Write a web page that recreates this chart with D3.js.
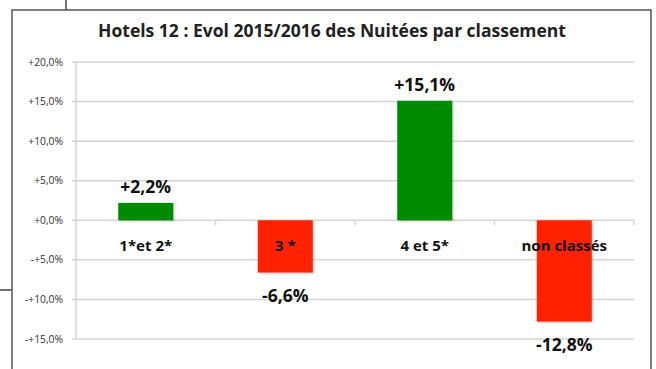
<!DOCTYPE html>
<html>
<head>
<meta charset="utf-8">
<script src="https://cdn.jsdelivr.net/npm/d3@7"></script>
<style>
  html, body { margin: 0; padding: 0; background: #fff; }
  svg { display: block; }
</style>
</head>
<body>
<svg id="chart" width="656" height="369"></svg>
<script>
// Chart data
const categories = ["1*et 2*", "3 *", "4 et 5*", "non classés"];
const values = [2.2, -6.6, 15.1, -12.8];
const valueLabels = ["+2,2%", "-6,6%", "+15,1%", "-12,8%"];
const tickValues = [20, 15, 10, 5, 0, -5, -10, -15];
const tickLabels = ["+20,0%", "+15,0%", "+10,0%", "+5,0%", "+0,0%", "-+5,0%", "-+10,0%", "-+15,0%"];
const title = "Hotels 12 : Evol 2015/2016 des Nuitées par classement";

const svg = d3.select("#chart");
const font = "'Open Sans', sans-serif";

// Surrounding sheet borders and chart frame
svg.append("line").attr("x1", 66).attr("x2", 66).attr("y1", 0).attr("y2", 10)
  .attr("stroke", "#444").attr("stroke-width", 1.5);
svg.append("line").attr("x1", 0).attr("x2", 12).attr("y1", 290).attr("y2", 290)
  .attr("stroke", "#444").attr("stroke-width", 1.5);
svg.append("rect").attr("x", 12).attr("y", 10).attr("width", 639).attr("height", 380)
  .attr("fill", "#fff").attr("stroke", "#555").attr("stroke-width", 1.5);

const x0 = 76, x1 = 634;
const x = d3.scaleBand().domain(categories).range([x0, x1]).paddingInner(0).paddingOuter(0);
const y = d3.scaleLinear().domain([-15, 20]).range([339, 62]);

// Horizontal gridlines
svg.append("g").selectAll("line").data(tickValues).join("line")
  .attr("x1", x0 - 4).attr("x2", x1)
  .attr("y1", d => y(d)).attr("y2", d => y(d))
  .attr("stroke", "#d4d4d4").attr("stroke-width", 1.5);

// Value axis line
svg.append("line").attr("x1", x0).attr("x2", x0).attr("y1", y(20)).attr("y2", y(-15))
  .attr("stroke", "#d4d4d4").attr("stroke-width", 1.5);

// Value axis labels
svg.append("g").selectAll("text").data(tickValues).join("text")
  .attr("x", 63).attr("y", d => y(d)).attr("dy", "0.35em")
  .attr("text-anchor", "end")
  .attr("font-family", font).attr("font-size", 10.3).attr("fill", "#333")
  .text((d, i) => tickLabels[i]);

// Category boundary ticks on the zero line
svg.append("g").selectAll("line").data(categories).join("line")
  .attr("x1", d => x(d) + x.bandwidth()).attr("x2", d => x(d) + x.bandwidth())
  .attr("y1", y(0)).attr("y2", y(0) + 5)
  .attr("stroke", "#d4d4d4").attr("stroke-width", 1.5);

// Bars
const barW = 55;
const shadow = svg.append("defs").append("filter").attr("id", "shadow")
  .attr("x", "-10%").attr("y", "-10%").attr("width", "130%").attr("height", "130%");
shadow.append("feDropShadow").attr("dx", 1).attr("dy", 1).attr("stdDeviation", 1)
  .attr("flood-color", "#000").attr("flood-opacity", 0.25);

svg.append("g").selectAll("rect").data(values).join("rect")
  .attr("x", (d, i) => x(categories[i]) + x.bandwidth() / 2 - barW / 2)
  .attr("width", barW)
  .attr("y", d => y(Math.max(0, d)))
  .attr("height", d => Math.abs(y(d) - y(0)))
  .attr("fill", d => d >= 0 ? "#008a00" : "#ff2200")
  .attr("filter", "url(#shadow)");

// Value labels
svg.append("g").selectAll("text").data(values).join("text")
  .attr("x", (d, i) => x(categories[i]) + x.bandwidth() / 2)
  .attr("y", d => d >= 0 ? y(d) - 10 : y(d) + 29)
  .attr("text-anchor", "middle")
  .attr("font-family", font).attr("font-weight", "bold").attr("font-size", 17.5).attr("fill", "#111")
  .text((d, i) => valueLabels[i]);

// Category labels
svg.append("g").selectAll("text").data(categories).join("text")
  .attr("x", d => x(d) + x.bandwidth() / 2)
  .attr("y", y(0) + 31)
  .attr("text-anchor", "middle")
  .attr("font-family", font).attr("font-weight", "bold").attr("font-size", 15).attr("fill", "#111")
  .text(d => d);

// Title
svg.append("text")
  .attr("x", 332).attr("y", 37)
  .attr("text-anchor", "middle")
  .attr("font-family", font).attr("font-weight", "bold").attr("font-size", 17.5).attr("fill", "#222")
  .text(title);
</script>
</body>
</html>
